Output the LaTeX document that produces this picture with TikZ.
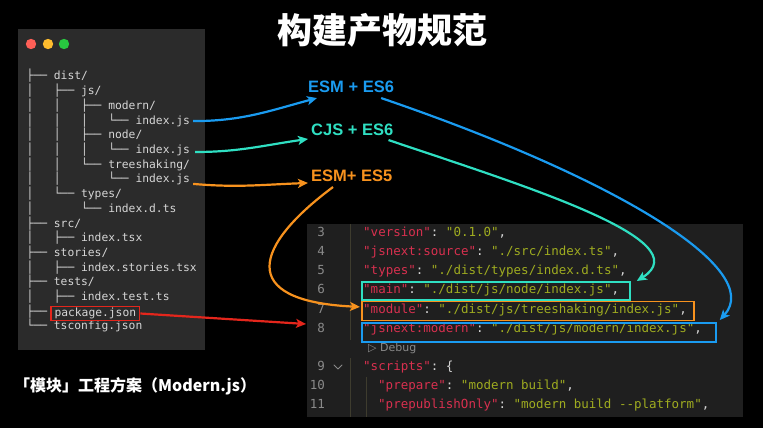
\documentclass[tikz,border=0pt]{standalone}
\usepackage{fontspec}
\setmainfont{Liberation Sans}
\setmonofont{DejaVu Sans Mono}
\newfontfamily\cjk{Noto Sans CJK SC}
\newfontfamily\dejavu{DejaVu Sans}
\usetikzlibrary{arrows.meta,calc}
\definecolor{panelc}{HTML}{2B2B2B}
\definecolor{codebg}{HTML}{1F1F1F}
\definecolor{treec}{HTML}{D6D6D6}
\definecolor{bluec}{HTML}{1A9BF0}
\definecolor{cyanc}{HTML}{2FDFC2}
\definecolor{orangec}{HTML}{F7921E}
\definecolor{redc}{HTML}{E4261C}
\definecolor{keyc}{HTML}{D8304F}
\definecolor{valc}{HTML}{9FAC1F}
\definecolor{punc}{HTML}{D4D4D4}
\definecolor{numc}{HTML}{8A8A8A}
\definecolor{guidec}{HTML}{3E3C2E}
\definecolor{dotr}{HTML}{FE5F57}
\definecolor{doty}{HTML}{FEBC2E}
\definecolor{dotg}{HTML}{28C840}
\newcommand\K[1]{\textcolor{keyc}{"#1"}}
\newcommand\V[1]{\textcolor{valc}{"#1"}}
\begin{document}
\begin{tikzpicture}[x=1pt,y=-1pt,
  every node/.style={inner sep=0pt},
  tree/.style={anchor=west,text=treec,font=\ttfamily\fontsize{11.3}{13}\selectfont,text height=9pt,text depth=3pt},
  code/.style={anchor=west,text=punc,font=\ttfamily\fontsize{12.5}{14}\selectfont,text height=10pt,text depth=3pt},
  lnum/.style={anchor=east,text=numc,font=\ttfamily\fontsize{12.5}{14}\selectfont,text height=10pt,text depth=3pt},
  lab/.style={anchor=west,font=\bfseries\fontsize{16.5}{18}\selectfont},
  hbox/.style={anchor=north west,line width=1.8pt},
  ar/.style={line width=2.2pt,-{Stealth[length=10pt,width=9pt,inset=2.5pt]}},
  guide/.style={draw=guidec,line width=1pt}]
\useasboundingbox (0,0) rectangle (763,428);
\fill[black] (0,0) rectangle (763,428);
% title
\node[text=white,font=\cjk\bfseries\fontsize{35}{40}\selectfont] (title) at (382,30) {构建产物规范};
% left panel
\node[fill=panelc,anchor=north west,minimum width=187pt,minimum height=321pt] (panel) at (18,29) {};
\fill[dotr] (31,44) circle (5.2);
\fill[doty] (48,44) circle (5.2);
\fill[dotg] (64,44) circle (5.2);
\path
 (26.5,77.0)  node[tree] (t0) {├──~dist/}
 (26.5,91.7)  node[tree] (t1) {│~~~├──~js/}
 (26.5,106.4) node[tree] (t2) {│~~~│~~~├──~modern/}
 (26.5,121.1) node[tree] (idxm) {│~~~│~~~│~~~└──~index.js}
 (26.5,135.8) node[tree] (t4) {│~~~│~~~├──~node/}
 (26.5,150.5) node[tree] (idxn) {│~~~│~~~│~~~└──~index.js}
 (26.5,165.2) node[tree] (t6) {│~~~│~~~└──~treeshaking/}
 (26.5,179.9) node[tree] (idxt) {│~~~│~~~~~~~└──~index.js}
 (26.5,194.6) node[tree] (t8) {│~~~└──~types/}
 (26.5,209.3) node[tree] (t9) {│~~~~~~~└──~index.d.ts}
 (26.5,224.0) node[tree] (t10) {├──~src/}
 (26.5,238.7) node[tree] (t11) {│~~~├──~index.tsx}
 (26.5,253.4) node[tree] (t12) {├──~stories/}
 (26.5,268.1) node[tree] (t13) {│~~~├──~index.stories.tsx}
 (26.5,282.8) node[tree] (t14) {├──~tests/}
 (26.5,297.5) node[tree] (t15) {│~~~├──~index.test.ts}
 (26.5,312.2) node[tree] (t16) {├──}
 (26.5,326.9) node[tree] (t17) {└──~tsconfig.json};
\node[tree,draw=redc,line width=1.4pt,inner xsep=3.5pt,inner ysep=1pt] (pkg) at (50.3,313.5) {package.json};
% caption
\node[anchor=west,text=white,font=\cjk\bfseries\fontsize{16}{18}\selectfont] (caption) at (14,386) {「模块」工程方案（Modern.js）};
% labels
\node[lab,text=bluec] (esm6) at (308,87) {ESM + ES6};
\node[lab,text=cyanc] (cjs6) at (311,130) {CJS + ES6};
\node[lab,text=orangec] (esm5) at (311,176) {ESM+ ES5};
% code panel
\node[fill=codebg,anchor=north west,minimum width=436pt,minimum height=193pt] (codepanel) at (307,224) {};
\draw[guide] (350,224) -- (350,340);
\draw[guide] (350,358) -- (350,417);
\draw[guide] (366,377) -- (366,417);
\path
 (325,233)   node[lnum] (n3) {3}
 (325,252)   node[lnum] (n4) {4}
 (325,271)   node[lnum] (n5) {5}
 (325,290)   node[lnum] (n6) {6}
 (325,309.5) node[lnum] (n7) {7}
 (325,329)   node[lnum] (n8) {8}
 (325,367)   node[lnum] (n9) {9}
 (325,386)   node[lnum] (n10) {10}
 (325,405)   node[lnum] (n11) {11};
\draw[numc,line width=1pt,line cap=round,line join=round] (334,365) -- (338,369) -- (342,365);
\path
 (363,233)   node[code] (l3) {\K{version}: \V{0.1.0},}
 (363,252)   node[code] (l4) {\K{jsnext:source}: \V{./src/index.ts},}
 (363,271)   node[code] (l5) {\K{types}: \V{./dist/types/index.d.ts},}
 (363,290)   node[code] (l6) {\K{main}: \V{./dist/js/node/index.js},}
 (363,309.5) node[code] (l7) {\K{module}: \V{./dist/js/treeshaking/index.js},}
 (363,329)   node[code] (l8) {\K{jsnext:modern}: \V{./dist/js/modern/index.js},}
 (363,367)   node[code] (l9) {\K{scripts}: \{}
 (378,386)   node[code] (l10) {\K{prepare}: \V{modern build},}
 (378,405)   node[code] (l11) {\K{prepublishOnly}: \V{modern build --platform},};
\node[anchor=west,text=numc,font=\dejavu\fontsize{11}{13}\selectfont] (debug) at (368,348) {▷ Debug};
% highlight boxes
\node[hbox,draw=cyanc,minimum width=268pt,minimum height=18pt] (bmain) at (361,281) {};
\node[hbox,draw=orangec,minimum width=332pt,minimum height=19pt] (bmod) at (361,300.5) {};
\node[hbox,draw=bluec,minimum width=354pt,minimum height=19pt] (bmodern) at (361,322) {};
% connector end points
\coordinate (redtip) at (306,324);
% short arrows
\draw[ar,bluec] ($(idxm.east)+(3,0)$) to[out=0,in=195] ($(esm6.south west)+(9,5)$);
\draw[ar,cyanc] ($(idxn.east)+(5,1.5)$) to[out=0,in=188] ($(cjs6.west)+(-3,9)$);
\draw[ar,orangec] ($(idxt.east)+(3,4)$) to[out=-5,in=182] ($(esm5.west)+(-3,7)$);
% long arrows
\draw[ar,bluec] ($(esm6.south east)+(-13,5)$) .. controls +(240,82) and +(45,-50) .. ($(bmodern.north east)+(3,-2)$);
\draw[ar,cyanc] ($(cjs6.south east)+(-5,4)$) .. controls +(133,45) and +(65,-41) .. ($(bmain.north east)+(6,0)$);
\draw[ar,orangec] ($(esm5.south west)+(22,5)$) .. controls +(-78,58) and +(-125,-6) .. ($(bmod.west)+(-1,-4)$);
\draw[ar,redc] (pkg.east) -- (redtip);
\end{tikzpicture}
\end{document}
